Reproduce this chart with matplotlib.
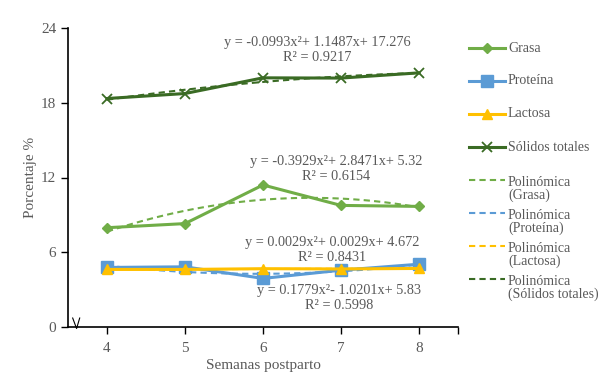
import numpy as np
import matplotlib.pyplot as plt
from matplotlib.lines import Line2D

plt.rcParams['font.family'] = ['Liberation Serif', 'DejaVu Serif']

semanas = [4, 5, 6, 7, 8]
grasa = [7.97, 8.30, 11.40, 9.76, 9.68]
proteina = [4.78, 4.83, 3.90, 4.56, 5.04]
lactosa = [4.62, 4.62, 4.68, 4.66, 4.70]
solidos = [18.34, 18.74, 20.00, 19.98, 20.40]

series_names = ['Grasa', 'Proteína', 'Lactosa', 'Sólidos totales']
colores = ['#70AD47', '#5B9BD5', '#FFC000', '#3A6B24']
marcadores = ['D', 's', '^', 'x']
tam_marcador = [5.5, 8, 7, 7]

ecuaciones = [
    ('y = -0.3929x²+ 2.8471x+ 5.32', 'R² = 0.6154'),
    ('y = 0.1779x²- 1.0201x+ 5.83', 'R² = 0.5998'),
    ('y = 0.0029x²+ 0.0029x+ 4.672', 'R² = 0.8431'),
    ('y = -0.0993x²+ 1.1487x+ 17.276', 'R² = 0.9217'),
]
# posicion (x, y) de cada etiqueta de ecuacion en unidades de datos
pos_ecuaciones = [(6.94, 13.3), (6.97, 2.9), (6.89, 6.8), (6.69, 22.8)]

gris = '#595959'

fig = plt.figure(figsize=(6.08, 3.77), dpi=100)
ax = fig.add_axes([68 / 608, 50 / 377, 390 / 608, 299 / 377])

datos = [grasa, proteina, lactosa, solidos]
x = np.array(semanas)
idx = np.arange(1, len(x) + 1)
xs = np.linspace(1, len(x), 100)

for d, c, m, ms in zip(datos, colores, marcadores, tam_marcador):
    ax.plot(x, d, color=c, lw=2.2, marker=m, ms=ms, mew=1.3 if m == 'x' else 1,
            zorder=3)

for d, c in zip(datos, colores):
    coef = np.polyfit(idx, d, 2)
    ax.plot(xs + x[0] - 1, np.polyval(coef, xs), color=c, lw=1.5,
            ls=(0, (3, 2)), zorder=2)

for (eq, r2), (px, py) in zip(ecuaciones, pos_ecuaciones):
    ax.text(px, py, eq, ha='center', va='center', fontsize=10.3, color=gris)
    ax.text(px, py - 1.2, r2, ha='center', va='center', fontsize=10.3, color=gris)

ax.set_xlim(3.5, 8.5)
ax.set_ylim(0, 24)
ax.set_yticks([0, 6, 12, 18, 24])
ax.set_xticks(semanas + [8.5])
ax.set_xticklabels([str(s) for s in semanas] + [''])
ax.tick_params(axis='both', direction='out', length=5, width=1, colors='black',
               labelcolor=gris, labelsize=11)
ax.tick_params(axis='x', pad=6)
for s in ['top', 'right']:
    ax.spines[s].set_visible(False)
for s in ['left', 'bottom']:
    ax.spines[s].set_linewidth(1.2)

ax.set_xlabel('Semanas postparto', fontsize=11, color=gris, labelpad=3)
ax.set_ylabel('Porcentaje %', fontsize=11, color=gris, labelpad=3)

# marca de corte del eje
ax.plot([0.012, 0.022, 0.03], [0.03, -0.005, 0.03], transform=ax.transAxes,
        color='black', lw=0.8, clip_on=False)

# leyenda
entradas = [(n, c, m, ms, '-') for n, c, m, ms in
            zip(series_names, colores, marcadores, tam_marcador)]
entradas += [('Polinómica\n(' + n + ')', c, None, 0, (0, (3, 2)))
             for n, c in zip(series_names, colores)]
for i, (lab, c, m, ms, ls) in enumerate(entradas):
    yp = 1 - (48 + 33 * i) / 377
    lw = 2.2 if ls == '-' else 1.5
    fig.add_artist(Line2D([469 / 608, 505 / 608], [yp, yp], color=c, lw=lw, ls=ls))
    if m:
        fig.add_artist(Line2D([487 / 608], [yp], color=c, marker=m, ms=ms,
                              mew=1.3 if m == 'x' else 1))
    if '\n' in lab:
        fig.text(508 / 608, yp + 4 / 377, lab, ha='left', va='top',
                 fontsize=10, color=gris, linespacing=0.95)
    else:
        fig.text(508 / 608, yp, lab, ha='left', va='center',
                 fontsize=10, color=gris)

fig.savefig('out.png', dpi=100)
